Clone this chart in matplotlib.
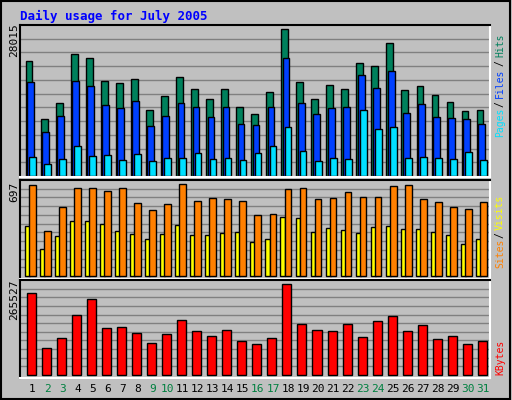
import matplotlib
matplotlib.use("Agg")
import matplotlib.pyplot as plt
import numpy as np

days = list(range(1, 32))
weekend = [2, 3, 9, 10, 16, 17, 23, 24, 30, 31]

# values
hits = [21940, 10860, 13910, 23250, 22490, 18100, 17720, 18480, 12570, 15240,
        18860, 16580, 14670, 16580, 13150, 11810, 16000, 28015, 17910, 14670,
        17340, 16580, 21530, 20960, 25340, 16390, 17150, 15430, 14100, 12380, 12570]
files = [17910, 8380, 11430, 18100, 17150, 13530, 12960, 14290, 9530, 11430,
         13910, 13150, 11240, 13150, 9910, 9720, 13150, 22490, 13910, 11810,
         12960, 13150, 19250, 16770, 20010, 12000, 13720, 11240, 11050, 10860, 9910]
pages = [3620, 2290, 3240, 5720, 3810, 4000, 3050, 4190, 2860, 3430,
         3430, 4380, 3240, 3430, 3050, 4380, 5720, 9340, 4760, 2860,
         3430, 3240, 12570, 8960, 9340, 3430, 3620, 3430, 3240, 4570, 3050]
visits = [687, 338, 519, 664, 664, 641, 664, 555, 501, 548,
          697, 570, 593, 585, 570, 461, 468, 656, 664, 585,
          593, 639, 600, 600, 680, 687, 585, 562, 524, 509, 562]
sites = [378, 208, 300, 416, 416, 392, 338, 316, 277, 316,
         385, 308, 308, 323, 331, 254, 277, 448, 440, 331,
         362, 346, 323, 370, 378, 355, 355, 331, 308, 239, 277]
kbytes = [239230, 78800, 107970, 175080, 221720, 136180, 139100, 121600, 92420, 118680,
          159520, 127440, 112830, 130350, 98250, 89500, 107000, 265527, 148810, 131320,
          128410, 148810, 110890, 157570, 172160, 128410, 145890, 104080, 112830, 89500, 98250]

W, H = 512, 400
fig = plt.figure(figsize=(W / 100, H / 100), dpi=100)
fig.patch.set_facecolor('#c0c0c0')
mono = 'DejaVu Sans Mono'
X0, X1 = 20, 490
XLIM = (0.27, 31.54)


def px_axes(y0, y1):
    # pixel box (top-left origin) -> figure axes
    ax = fig.add_axes([X0 / W, 1 - y1 / H, (X1 - X0) / W, (y1 - y0) / H])
    ax.set_facecolor('#c0c0c0')
    ax.set_xlim(*XLIM)
    ax.set_xticks([])
    ax.set_yticks([])
    for s in ['left', 'top']:
        ax.spines[s].set_color('black')
    for s in ['right', 'bottom']:
        ax.spines[s].set_color('white')
    for s in ax.spines.values():
        s.set_linewidth(1.5)
    return ax


def grid(ax, n, top):
    for k in range(1, n):
        ax.axhline(top * k / n, color='#808080', lw=1, zorder=0)


d = np.array(days)
bk = dict(edgecolor='black', linewidth=1, align='edge')

# top panel
ax1 = px_axes(25, 177)
top1 = max(hits) * 151 / 147
ax1.set_ylim(-max(hits) * 1 / 147, top1)
grid(ax1, 11, top1)
ax1.bar(d - 0.35, hits, 0.45, color='#00805c', **bk)
ax1.bar(d - 0.25, files, 0.45, color='#0040ff', **bk)
ax1.bar(d - 0.12, pages, 0.45, color='#00e0ff', **bk)

# middle panel
ax2 = px_axes(180, 279)
top2 = max(visits) * 96 / 92
ax2.set_ylim(-max(visits) * 3 / 92, top2)
grid(ax2, 11, top2)
ax2.bar(d - 0.4, sites, 0.33, color='#ffff00', **bk)
ax2.bar(d - 0.13, visits, 0.45, color='#ff8000', **bk)

# bottom panel
ax3 = px_axes(280, 378)
top3 = max(kbytes) * 95 / 91
ax3.set_ylim(-max(kbytes) * 3 / 91, top3)
grid(ax3, 11, top3)
ax3.bar(d - 0.27, kbytes, 0.6, color='#ff0000', **bk)


def ftext(x, y, s, **kw):
    fig.text(x / W, 1 - y / H, s, **kw)


ftext(20, 16, 'Daily usage for July 2005', color='#0000ff', fontsize=9,
      fontweight='bold', family=mono, va='center')
lk = dict(rotation=90, fontsize=8, family=mono, ha='center', va='center')
ftext(14, 40, str(max(hits)), **lk)
ftext(14, 192, str(max(visits)), **lk)
ftext(14, 300, str(max(kbytes)), **lk)

for day in days:
    x = X0 + (day - XLIM[0] + 0.1) * (X1 - X0) / (XLIM[1] - XLIM[0])
    ftext(x, 389, str(day), fontsize=8, family=mono, ha='center', va='center',
          color='#008040' if day in weekend else 'black')

# right side labels
rk = dict(rotation=90, fontsize=7, family=mono, ha='center', va='center')
ftext(500, 122, 'Pages', color='#00e0ff', **rk)
ftext(500, 104, '/', color='black', **rk)
ftext(500, 83, 'Files', color='#0040ff', **rk)
ftext(500, 63, '/', color='black', **rk)
ftext(500, 45, 'Hits', color='#00805c', **rk)
ftext(500, 253, 'Sites', color='#ff8000', **rk)
ftext(500, 235, '/', color='black', **rk)
ftext(500, 212, 'Visits', color='#ffff00', **rk)
ftext(500, 357, 'KBytes', color='#ff0000', **rk)

fig.add_artist(plt.Rectangle((0.002, 0.003), 0.994, 0.994, transform=fig.transFigure,
                             fill=False, edgecolor='black', lw=1.5))

fig.savefig('out.png', dpi=100, facecolor=fig.get_facecolor())
